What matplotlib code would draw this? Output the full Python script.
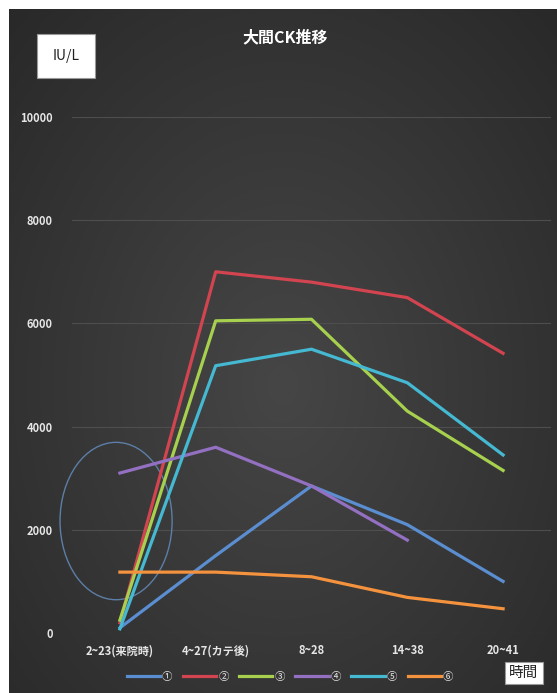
import numpy as np
import matplotlib.pyplot as plt
from matplotlib.patches import Ellipse

plt.rcParams['font.family'] = ['Noto Sans CJK JP', 'DejaVu Sans']

# CK values (IU/L) per sampling window
periods = ["2~23(来院時)", "4~27(カテ後)", "8~28", "14~38", "20~41"]
series_names = ["①", "②", "③", "④", "⑤", "⑥"]
ck_1 = [100, 1500, 2850, 2100, 1000]
ck_2 = [200, 7000, 6800, 6500, 5420]
ck_3 = [250, 6050, 6080, 4300, 3150]
ck_4 = [3100, 3600, 2850, 1800]
ck_5 = [80, 5180, 5500, 4850, 3450]
ck_6 = [1180, 1180, 1090, 690, 470]
colors = ["#5a8ed0", "#d2444f", "#a6d04e", "#9370c2", "#45b8d2", "#f5923e"]

W, H = 557, 693
fig = plt.figure(figsize=(W / 100, H / 100), dpi=100, facecolor="white")

# dark panel with a soft radial glow
bg = fig.add_axes([9 / W, 0, 1 - 9 / W, 1 - 9 / H])
yy, xx = np.mgrid[0:1:300j, 0:1:300j]
r = np.sqrt(((xx - 0.5) / 0.75) ** 2 + ((yy - 0.45) / 0.8) ** 2)
glow = np.clip(1 - r, 0, 1)
shade = 0.155 + 0.12 * glow
bg.imshow(np.dstack([shade, shade, shade]), aspect="auto",
          extent=[0, 1, 0, 1], origin="lower")
bg.set_axis_off()

ax = fig.add_axes([72 / W, 1 - 633 / H, (551 - 72) / W, (633 - 117) / H])
ax.set_facecolor("none")
x = np.arange(len(periods))
for vals, name, col in zip([ck_1, ck_2, ck_3, ck_4, ck_5, ck_6],
                           series_names, colors):
    ax.plot(x[:len(vals)], vals, color=col, lw=2.3, label=name)

# highlight of the arrival-time values
ax.add_patch(Ellipse((-0.04, 2170), 1.17, 3050, fill=False,
                     edgecolor="#5d7ea6", lw=1.0, clip_on=False))

ax.set_xlim(-0.5, 4.5)
ax.set_ylim(0, 10000)
ax.set_yticks(range(0, 10001, 2000))
ax.set_xticks(x)
ax.set_xticklabels(periods)
ax.grid(axis="y", color="#4e4e4e", lw=0.8)
ax.set_axisbelow(True)
for s in ax.spines.values():
    s.set_visible(False)
ax.tick_params(length=0, colors="#e6e6e6", labelsize=8, pad=8)
ax.tick_params(axis="y", pad=14)
for lab in ax.get_xticklabels() + ax.get_yticklabels():
    lab.set_fontweight("bold")

fig.text(285 / W, 1 - 37 / H, "大間CK推移", color="white", fontsize=11.5,
         fontweight="bold", ha="center", va="center")
fig.text(66 / W, 1 - 56 / H, "IU/L", color="#222222", fontsize=10,
         ha="center", va="center",
         bbox=dict(boxstyle="square,pad=1.1", fc="white", ec="#999999", lw=0.8))
fig.text(524 / W, 1 - 673 / H, "時間", color="#222222", fontsize=10.5,
         ha="center", va="center",
         bbox=dict(boxstyle="square,pad=0.3", fc="white", ec="#999999", lw=0.8))

ax.legend(loc="center", bbox_to_anchor=(290 / W, 1 - 677 / H),
          bbox_transform=fig.transFigure, ncol=6, frameon=False,
          fontsize=7.5, labelcolor="#e6e6e6", handlelength=3.2,
          handletextpad=0.2, columnspacing=1.0)

fig.savefig("out.png", dpi=100, facecolor="white")
